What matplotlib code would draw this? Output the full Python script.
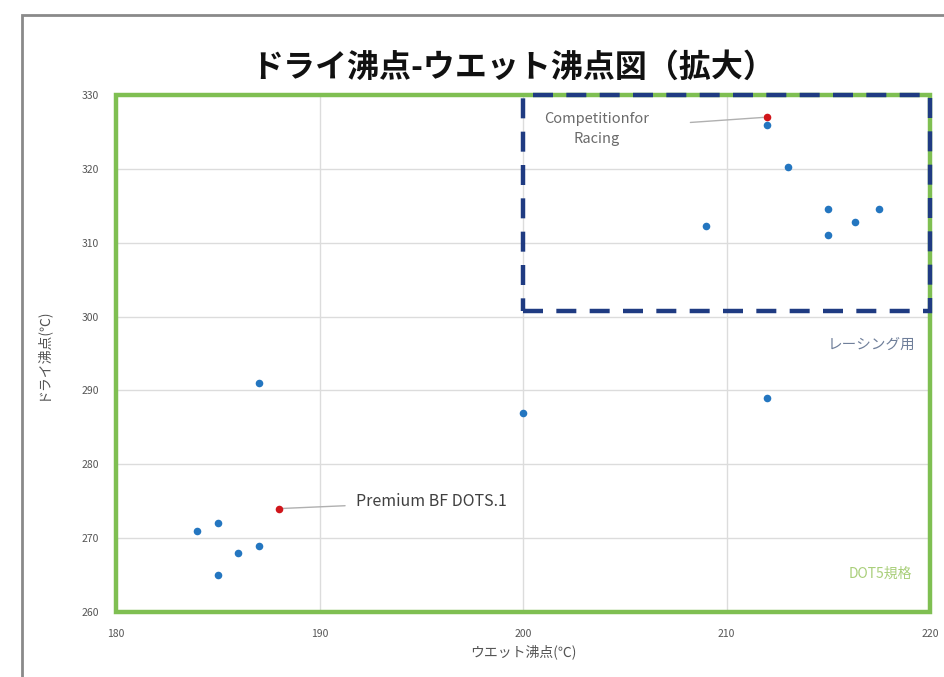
"""ドライ沸点-ウエット沸点図（拡大） — ブレーキフルードの散布図。"""

import matplotlib
matplotlib.use("Agg")
import matplotlib.pyplot as plt  # noqa: E402
from matplotlib.patches import Rectangle  # noqa: E402

plt.rcParams["font.family"] = ["Noto Sans CJK JP", "DejaVu Sans"]

# 製品データ (ウエット沸点, ドライ沸点)
wet_bp = [184, 185, 185, 186, 187, 187, 200, 209, 212, 213, 215, 215, 216.3, 217.5, 212]
dry_bp = [271, 272, 265, 268, 269, 291, 287, 312.2, 326, 320.2, 314.6, 311.1, 312.8, 314.5, 289]

# 注目製品 (赤)
hl_names = ["Premium BF DOTS.1", "Competitionfor\nRacing"]
hl_wet = [188, 212]
hl_dry = [274, 327]

# 規格範囲
dot5_wet = (180, 220)
dot5_dry = (260, 330)
racing_wet = (200, 220)
racing_dry = (300.8, 330)

fig = plt.figure(figsize=(9.45, 6.77), dpi=100)
# 外枠
fig.patches.append(Rectangle((0.023, -0.1), 1.2, 1.078, transform=fig.transFigure,
                             fill=False, edgecolor="#8a8a8a", lw=2.0))
ax = fig.add_axes([0.1228, 0.096, 0.8614, 0.7637])

ax.scatter(wet_bp, dry_bp, s=30, color="#2476c0", zorder=4, linewidths=0)
ax.scatter(hl_wet, hl_dry, s=30, color="#d0161b", zorder=5, linewidths=0)

# DOT5 規格 (緑枠)
ax.add_patch(Rectangle((dot5_wet[0], dot5_dry[0]), dot5_wet[1] - dot5_wet[0],
                       dot5_dry[1] - dot5_dry[0], fill=False,
                       edgecolor="#7fbf52", lw=3.2, zorder=3, clip_on=False))
# レーシング用 (青破線)
ax.add_patch(Rectangle((racing_wet[0], racing_dry[0]), racing_wet[1] - racing_wet[0],
                       racing_dry[1] - racing_dry[0], fill=False,
                       edgecolor="#1f3b82", lw=3.2, ls=(0, (4.5, 3.0)), zorder=3,
                       clip_on=False))

ax.set_xlim(180, 220)
ax.set_ylim(260, 330)
ax.set_xticks(range(180, 221, 10))
ax.set_yticks(range(260, 331, 10))
ax.grid(True, color="#dcdcdc", lw=1.0)
ax.set_axisbelow(True)
for s in ax.spines.values():
    s.set_visible(False)
ax.tick_params(length=0, labelsize=7.5, labelcolor="#555555", pad=12)

ax.annotate(hl_names[0], xy=(hl_wet[0], hl_dry[0]), xytext=(191.8, 274.9),
            fontsize=11.5, color="#404040", va="center", ha="left",
            arrowprops=dict(arrowstyle="-", color="#b0b0b0", lw=1.0,
                            shrinkA=6, shrinkB=3))
ax.annotate(hl_names[1], xy=(hl_wet[1], hl_dry[1]), xytext=(203.6, 325.4),
            fontsize=10.5, color="#6a6a6a", va="center", ha="center",
            linespacing=1.6,
            arrowprops=dict(arrowstyle="-", color="#b0b0b0", lw=1.0,
                            shrinkA=28, shrinkB=3))

ax.text(219.3, 296.2, "レーシング用", fontsize=10.5, color="#6f7f9a",
        ha="right", va="center")
ax.text(219.1, 265.2, "DOT5規格", fontsize=10, color="#a9cf7a",
        ha="right", va="center")

ax.set_xlabel("ウエット沸点(℃)", fontsize=10, color="#555555", labelpad=4)
ax.set_ylabel("ドライ沸点(℃)", fontsize=10, color="#555555", labelpad=24)
fig.text(0.543, 0.9, "ドライ沸点-ウエット沸点図（拡大）", fontsize=23,
         fontweight="bold", ha="center", va="center", color="#111111")

fig.savefig("out.png", dpi=100)
